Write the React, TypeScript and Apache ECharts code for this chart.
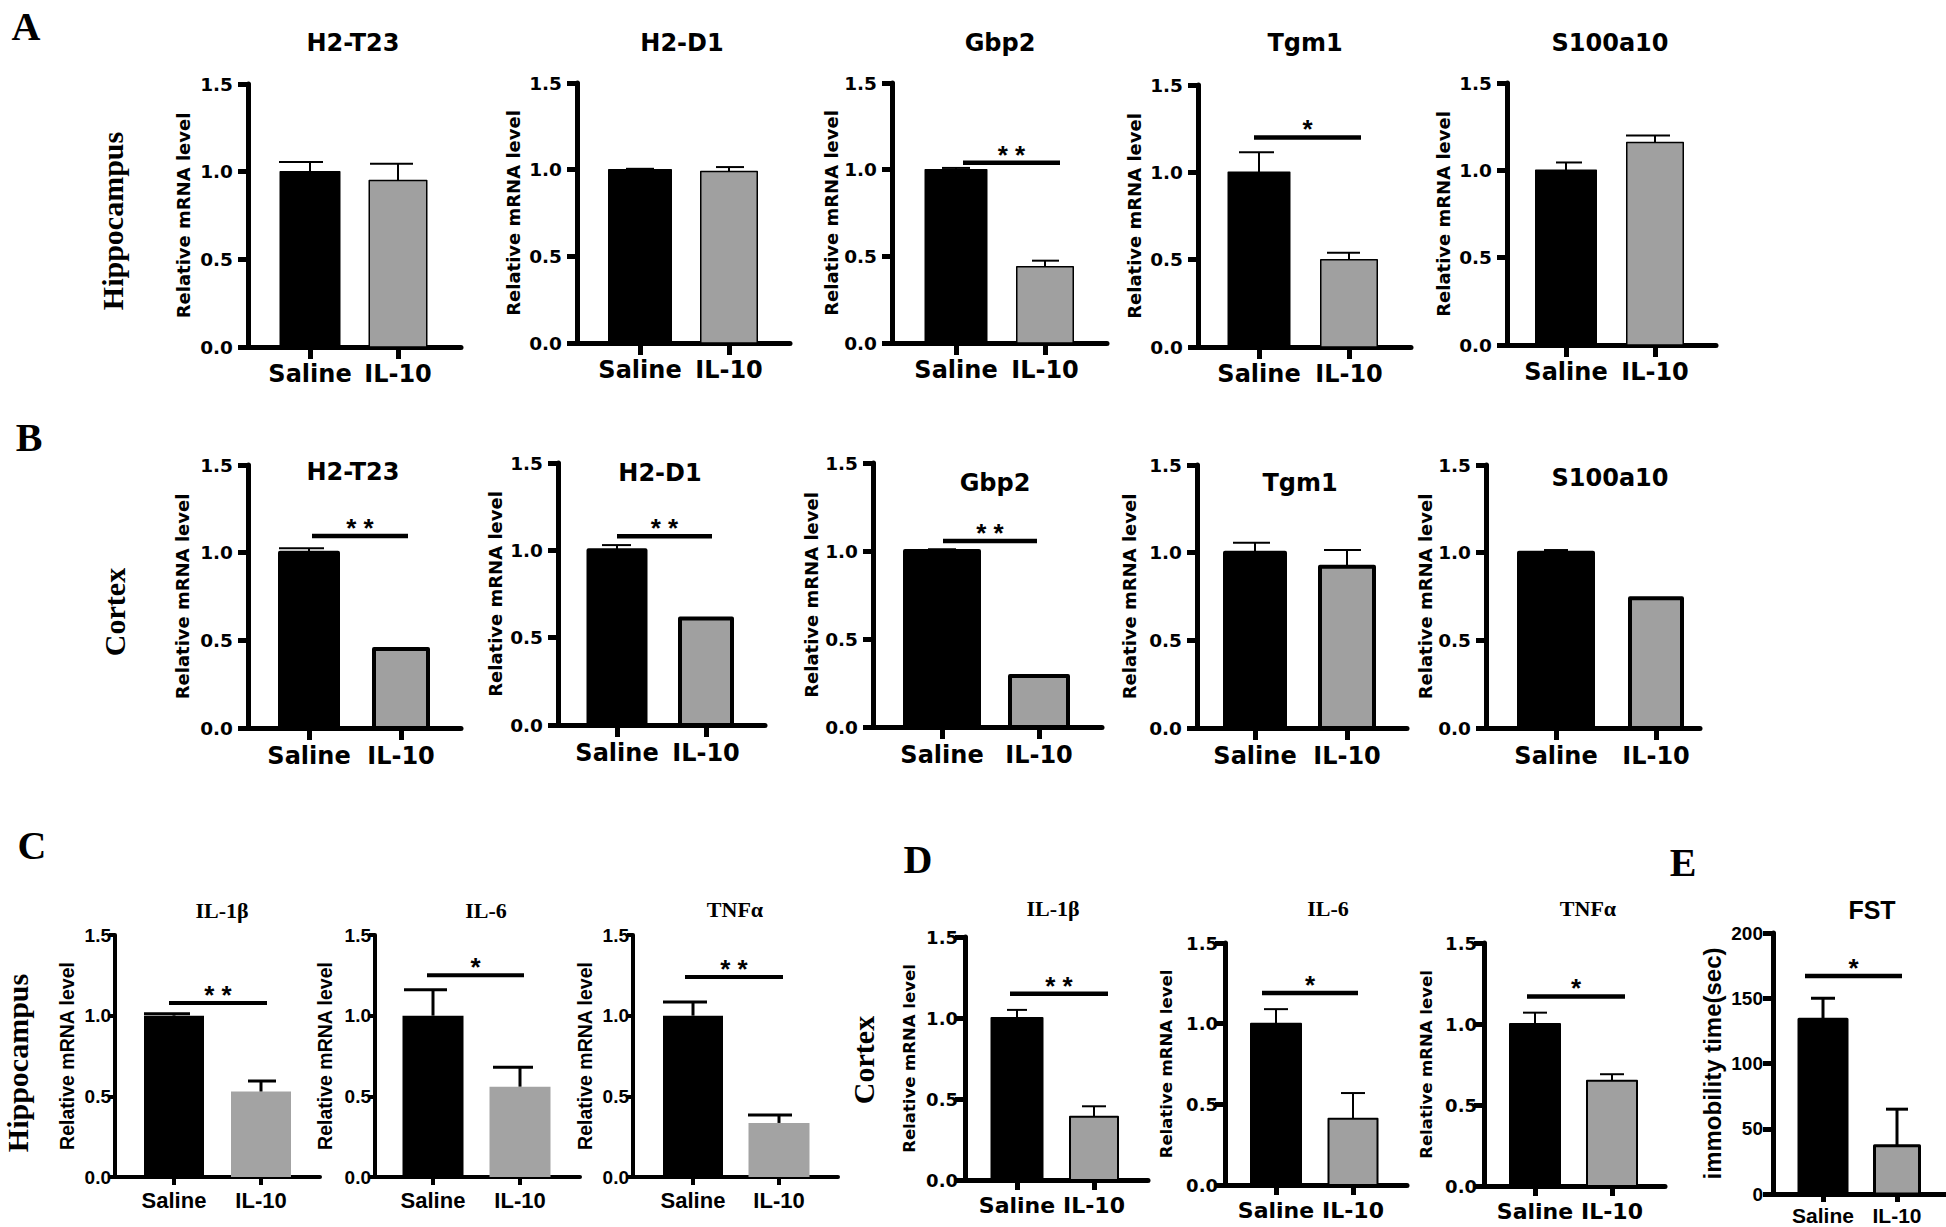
import React, { useEffect, useRef } from "react";
import * as echarts from "echarts";

// ---------------- DATA ----------------
const groups = ["Saline", "IL-10"];

const geneTitles = ["H2-T23", "H2-D1", "Gbp2", "Tgm1", "S100a10"];
const hippoGeneMeans = [[1.0, 0.95], [1.0, 0.99], [1.0, 0.44], [1.0, 0.5], [1.0, 1.16]];
const hippoGeneErr = [[0.055, 0.095], [0.005, 0.025], [0.01, 0.035], [0.115, 0.04], [0.045, 0.04]];
const hippoGeneSig: (null | [number, string])[] = [null, null, [1.04, "* *"], [1.2, "*"], null];

const cortexGeneMeans = [[1.0, 0.45], [1.0, 0.61], [1.0, 0.29], [1.0, 0.92], [1.0, 0.74]];
const cortexGeneErr = [[0.025, 0], [0.03, 0], [0.01, 0], [0.057, 0.095], [0.015, 0]];
const cortexGeneSig: (null | [number, string])[] = [[1.095, "* *"], [1.08, "* *"], [1.057, "* *"], null, null];

const cytokineTitles = ["IL-1β", "IL-6", "TNFα"];
const hippoCytoMeans = [[1.0, 0.53], [1.0, 0.56], [1.0, 0.335]];
const hippoCytoErr = [[0.012, 0.065], [0.16, 0.12], [0.085, 0.05]];
const hippoCytoSig: (null | [number, string])[] = [[1.078, "* *"], [1.25, "*"], [1.24, "* *"]];

const cortexCytoMeans = [[1.0, 0.39], [1.0, 0.41], [1.0, 0.65]];
const cortexCytoErr = [[0.05, 0.065], [0.09, 0.16], [0.07, 0.04]];
const cortexCytoSig: (null | [number, string])[] = [[1.15, "* *"], [1.19, "*"], [1.17, "*"]];

const fstTitle = "FST";
const fstMeans = [134, 37];
const fstErr = [16, 28];
const fstSig: [number, string] = [167, "*"];

const mrnaAxis = { max: 1.5, interval: 0.5, decimals: 1, name: "Relative mRNA level" };
const fstAxis = { max: 200, interval: 50, decimals: 0, name: "immobility time(sec)" };

const rowLetters = ["A", "B", "C", "D", "E"];
const regionNames = ["Hippocampus", "Cortex", "Hippocampus", "Cortex"];

// ---------------- LAYOUT (pixels) ----------------
type L = {
  yx: number; xend: number; top: number; zero: number; c1: number; c2: number;
  barW: number[]; caps: number[][]; sig?: number[]; title: number[]; nameX: number;
};
const layoutA: L[] = [
  { yx: 248, xend: 461, top: 84, zero: 347, c1: 310, c2: 398, barW: [61, 59], caps: [[31, 13], [28, 15]], title: [353, 43], nameX: 183 },
  { yx: 577, xend: 790, top: 83, zero: 343, c1: 640, c2: 729, barW: [64, 58], caps: [[14, 14], [13, 15]], title: [682, 43], nameX: 513 },
  { yx: 892, xend: 1107, top: 83, zero: 343, c1: 956, c2: 1045, barW: [63, 58], caps: [[14, 14], [13, 14]], sig: [963, 1060], title: [1000, 43], nameX: 832 },
  { yx: 1198, xend: 1411, top: 85, zero: 347, c1: 1259, c2: 1349, barW: [63, 58], caps: [[20, 15], [22, 11]], sig: [1254, 1361], title: [1305, 43], nameX: 1134 },
  { yx: 1507, xend: 1716, top: 83, zero: 345, c1: 1566, c2: 1655, barW: [62, 58], caps: [[10, 16], [29, 15]], title: [1610, 43], nameX: 1443 },
];
const layoutB: L[] = [
  { yx: 248, xend: 461, top: 465, zero: 728, c1: 309, c2: 401, barW: [62, 58], caps: [[30, 15], [14, 14]], sig: [312, 408], title: [353, 472], nameX: 182 },
  { yx: 558, xend: 765, top: 463, zero: 725, c1: 617, c2: 706, barW: [61, 56], caps: [[15, 14], [14, 14]], sig: [617, 712], title: [660, 473], nameX: 495 },
  { yx: 873, xend: 1102, top: 463, zero: 727, c1: 942, c2: 1039, barW: [78, 62], caps: [[14, 14], [14, 14]], sig: [943, 1037], title: [995, 483], nameX: 811 },
  { yx: 1197, xend: 1407, top: 465, zero: 728, c1: 1255, c2: 1347, barW: [64, 58], caps: [[22, 15], [23, 14]], title: [1300, 483], nameX: 1129 },
  { yx: 1486, xend: 1700, top: 465, zero: 728, c1: 1556, c2: 1656, barW: [78, 56], caps: [[12, 12], [12, 12]], title: [1610, 478], nameX: 1440 },
];
const layoutC: L[] = [
  { yx: 115, xend: 320, top: 935, zero: 1177, c1: 174, c2: 261, barW: [60, 60], caps: [[30, 16], [13, 15]], sig: [169, 267], title: [222, 910], nameX: 67 },
  { yx: 375, xend: 580, top: 935, zero: 1177, c1: 433, c2: 520, barW: [61, 61], caps: [[29, 14], [27, 13]], sig: [427, 524], title: [486, 910], nameX: 325 },
  { yx: 633, xend: 838, top: 935, zero: 1177, c1: 693, c2: 779, barW: [60, 61], caps: [[30, 14], [31, 13]], sig: [685, 783], title: [735, 909], nameX: 585 },
];
const layoutD: L[] = [
  { yx: 965, xend: 1148, top: 937, zero: 1180, c1: 1017, c2: 1094, barW: [53, 50], caps: [[10, 10], [12, 12]], sig: [1010, 1108], title: [1053, 908], nameX: 910 },
  { yx: 1225, xend: 1407, top: 943, zero: 1185, c1: 1276, c2: 1353, barW: [52, 51], caps: [[12, 12], [12, 12]], sig: [1262, 1358], title: [1328, 908], nameX: 1167 },
  { yx: 1484, xend: 1665, top: 943, zero: 1186, c1: 1535, c2: 1612, barW: [52, 52], caps: [[12, 12], [12, 12]], sig: [1527, 1625], title: [1588, 908], nameX: 1427 },
];
const layoutE: L = { yx: 1773, xend: 1946, top: 933, zero: 1194, c1: 1823, c2: 1897, barW: [51, 48], caps: [[12, 12], [11, 11]], sig: [1805, 1902], title: [1872, 910], nameX: 1712 };

const letterPos = [[26, 26], [29, 437], [32, 845], [918, 859], [1683, 862]];
const regionPos = [[112, 221], [114, 612], [17, 1063], [863, 1060]];

// ---------------- STYLES ----------------
type S = {
  axisW: number; yTickLen: number; xTickLen: number; tickW: number;
  tickFam: string; tickSize: number; yLabelMargin: number;
  labFam: string; labSize: number; xLabelMargin: number;
  nameFam: string; nameSize: number; titleFont: string;
  gray: string; grayBorder: number; blackBorder: number; errW: number; sigW: number; starFont: string;
};
const DJ = "DejaVu Sans";
const LS = "Liberation Sans";
const styleA: S = { axisW: 5, yTickLen: 10, xTickLen: 12, tickW: 5, tickFam: DJ, tickSize: 18.5, yLabelMargin: 15, labFam: DJ, labSize: 24, xLabelMargin: 15, nameFam: DJ, nameSize: 18, titleFont: 'bold 24px "DejaVu Sans"', gray: "#a0a0a0", grayBorder: 1.5, blackBorder: 1.5, errW: 2, sigW: 4.5, starFont: 'bold 26px "Liberation Sans"' };
const styleB: S = { ...styleA, grayBorder: 4, blackBorder: 4, xLabelMargin: 16 };
const styleC: S = { axisW: 4, yTickLen: 6, xTickLen: 8, tickW: 4, tickFam: LS, tickSize: 19, yLabelMargin: 4, labFam: LS, labSize: 22, xLabelMargin: 12, nameFam: LS, nameSize: 19.5, titleFont: 'bold 22px "Liberation Serif"', gray: "#a3a3a3", grayBorder: 0, blackBorder: 0, errW: 3, sigW: 4, starFont: 'bold 26px "Liberation Sans"' };
const styleD: S = { axisW: 5, yTickLen: 10, xTickLen: 10, tickW: 5, tickFam: DJ, tickSize: 18, yLabelMargin: 7, labFam: DJ, labSize: 22, xLabelMargin: 14, nameFam: DJ, nameSize: 16.5, titleFont: 'bold 22px "Liberation Serif"', gray: "#a0a0a0", grayBorder: 2, blackBorder: 2, errW: 2, sigW: 4.5, starFont: 'bold 26px "Liberation Sans"' };
const styleE: S = { axisW: 5, yTickLen: 10, xTickLen: 8, tickW: 5, tickFam: LS, tickSize: 19, yLabelMargin: 10, labFam: LS, labSize: 21, xLabelMargin: 11, nameFam: LS, nameSize: 24, titleFont: 'bold 25px "Liberation Sans"', gray: "#a0a0a0", grayBorder: 3, blackBorder: 3, errW: 3, sigW: 4.5, starFont: 'bold 26px "Liberation Sans"' };

type Panel = { title: string; means: number[]; err: number[]; sig: null | [number, string]; L: L; S: S; ax: typeof mrnaAxis };

function panels(): Panel[] {
  const out: Panel[] = [];
  geneTitles.forEach((t, i) => out.push({ title: t, means: hippoGeneMeans[i], err: hippoGeneErr[i], sig: hippoGeneSig[i], L: layoutA[i], S: styleA, ax: mrnaAxis }));
  geneTitles.forEach((t, i) => out.push({ title: t, means: cortexGeneMeans[i], err: cortexGeneErr[i], sig: cortexGeneSig[i], L: layoutB[i], S: styleB, ax: mrnaAxis }));
  cytokineTitles.forEach((t, i) => out.push({ title: t, means: hippoCytoMeans[i], err: hippoCytoErr[i], sig: hippoCytoSig[i], L: layoutC[i], S: styleC, ax: mrnaAxis }));
  cytokineTitles.forEach((t, i) => out.push({ title: t, means: cortexCytoMeans[i], err: cortexCytoErr[i], sig: cortexCytoSig[i], L: layoutD[i], S: styleD, ax: mrnaAxis }));
  out.push({ title: fstTitle, means: fstMeans, err: fstErr, sig: fstSig, L: layoutE, S: styleE, ax: fstAxis });
  return out;
}

function textEl(text: string, x: number, y: number, font: string, rotation = 0) {
  return {
    type: "text", x, y, rotation, silent: true,
    style: { text, x: 0, y: 0, font, fill: "#000", align: "center", verticalAlign: "middle", textAlign: "center", textVerticalAlign: "middle" },
  };
}

function buildOption() {
  const grid: any[] = [], xAxis: any[] = [], yAxis: any[] = [], series: any[] = [], graphic: any[] = [];
  panels().forEach((p, i) => {
    const { L, S } = p;
    const unit = L.c2 - L.c1;
    const xMin = -(L.c1 - L.yx) / unit;
    const xMax = 1 + (L.xend - L.c2) / unit;
    grid.push({ left: L.yx, top: L.top, width: L.xend - L.yx, height: L.zero - L.top });
    xAxis.push({
      gridIndex: i, type: "value", min: xMin, max: xMax,
      axisLine: { show: true, onZero: false, lineStyle: { color: "#000", width: S.axisW } },
      axisTick: { show: true, customValues: [0, 1], length: S.xTickLen, lineStyle: { color: "#000", width: S.tickW } },
      axisLabel: { show: true, customValues: [0, 1], formatter: (v: number) => groups[Math.round(v)] ?? "", margin: S.xLabelMargin, color: "#000", fontFamily: S.labFam, fontSize: S.labSize, fontWeight: "bold" },
      splitLine: { show: false },
    });
    yAxis.push({
      gridIndex: i, type: "value", min: 0, max: p.ax.max, interval: p.ax.interval,
      name: p.ax.name, nameLocation: "middle", nameGap: L.yx - L.nameX - S.nameSize * 0.5,
      nameTextStyle: { color: "#000", fontFamily: S.nameFam, fontSize: S.nameSize, fontWeight: "bold" },
      axisLine: { show: true, onZero: false, lineStyle: { color: "#000", width: S.axisW } },
      axisTick: { show: true, length: S.yTickLen, lineStyle: { color: "#000", width: S.tickW } },
      axisLabel: { show: true, margin: S.yLabelMargin, formatter: (v: number) => v.toFixed(p.ax.decimals), color: "#000", fontFamily: S.tickFam, fontSize: S.tickSize, fontWeight: "bold" },
      splitLine: { show: false },
    });
    // bars
    series.push({
      type: "custom", xAxisIndex: i, yAxisIndex: i, name: p.title, clip: false,
      data: p.means.map((m, k) => [k, m]),
      encode: { x: 0, y: 1 },
      renderItem: (params: any, api: any) => {
        const k = params.dataIndex;
        const base = api.coord([api.value(0), 0]);
        const top = api.coord([api.value(0), api.value(1)]);
        const lw = k === 0 ? S.blackBorder : S.grayBorder;
        const w = L.barW[k] - lw;
        return {
          type: "rect",
          shape: { x: base[0] - w / 2, y: top[1], width: w, height: base[1] - top[1] },
          style: { fill: k === 0 ? "#000" : S.gray, stroke: lw > 0 ? "#000" : null, lineWidth: lw, lineJoin: "round" },
        };
      },
    });
    // error bars
    series.push({
      type: "custom", xAxisIndex: i, yAxisIndex: i, name: p.title + " SEM", clip: false,
      data: p.means.map((m, k) => [k, m, p.err[k]]),
      encode: { x: 0, y: 1 },
      renderItem: (params: any, api: any) => {
        const k = params.dataIndex;
        const e = api.value(2);
        if (!(e > 0)) return { type: "group", children: [] };
        const a = api.coord([api.value(0), api.value(1)]);
        const b = api.coord([api.value(0), api.value(1) + e]);
        const cap = L.caps[k];
        const st = { stroke: "#000", lineWidth: S.errW };
        return {
          type: "group",
          children: [
            { type: "line", shape: { x1: a[0], y1: a[1], x2: b[0], y2: b[1] }, style: st },
            { type: "line", shape: { x1: b[0] - cap[0], y1: b[1], x2: b[0] + cap[1], y2: b[1] }, style: st },
          ],
        };
      },
    });
    // significance
    if (p.sig && L.sig) {
      const u1 = (L.sig[0] - L.c1) / unit;
      const u2 = (L.sig[1] - L.c1) / unit;
      const label = p.sig[1];
      series.push({
        type: "custom", xAxisIndex: i, yAxisIndex: i, name: p.title + " sig", clip: false,
        data: [[u1, p.sig[0], u2]],
        encode: { x: 0, y: 1 },
        renderItem: (params: any, api: any) => {
          const a = api.coord([api.value(0), api.value(1)]);
          const b = api.coord([api.value(2), api.value(1)]);
          return {
            type: "group",
            children: [
              { type: "line", shape: { x1: a[0], y1: a[1], x2: b[0], y2: b[1] }, style: { stroke: "#000", lineWidth: S.sigW } },
              { type: "text", style: { text: label, x: (a[0] + b[0]) / 2, y: a[1] - 8, font: S.starFont, fill: "#000", align: "center", verticalAlign: "middle", textAlign: "center", textVerticalAlign: "middle" } },
            ],
          };
        },
      });
    }
    graphic.push(textEl(p.title, L.title[0], L.title[1], S.titleFont));
  });
  rowLetters.forEach((t, i) => graphic.push(textEl(t, letterPos[i][0], letterPos[i][1], 'bold 40px "Liberation Serif"')));
  regionNames.forEach((t, i) => graphic.push(textEl(t, regionPos[i][0], regionPos[i][1], 'bold 30px "Liberation Serif"', Math.PI / 2)));
  return { animation: false, backgroundColor: "#fff", grid, xAxis, yAxis, series, graphic };
}

export default function App() {
  const ref = useRef<HTMLDivElement>(null);
  useEffect(() => {
    document.body.style.margin = "0";
    const chart = echarts.init(ref.current!, null, { renderer: "svg" });
    chart.setOption(buildOption() as any);
    return () => chart.dispose();
  }, []);
  return <div ref={ref} style={{ width: 1946, height: 1227 }} />;
}
